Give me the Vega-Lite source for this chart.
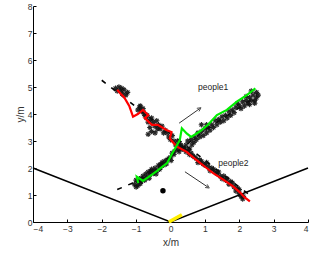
{
  "$schema": "https://vega.github.io/schema/vega-lite/v6.json",
  "width": 275,
  "height": 216,
  "autosize": "none",
  "padding": {"left": 33, "top": 6, "right": 19, "bottom": 36},
  "config": {
    "view": {"stroke": null},
    "font": "Liberation Sans",
    "axis": {
      "grid": false,
      "domainColor": "#000",
      "domainWidth": 1,
      "tickColor": "#000",
      "tickSize": -3,
      "labelColor": "#333",
      "labelFontSize": 8.5,
      "titleColor": "#333",
      "titleFontSize": 10,
      "titleFontWeight": "normal"
    }
  },
  "datasets": {
    "walls": [
      {"g": "w", "i": 0, "x": -4, "y": 2},
      {"g": "w", "i": 1, "x": 0, "y": 0},
      {"g": "w", "i": 2, "x": 4, "y": 2}
    ],
    "dashes": [
      {"g": "a", "i": 0, "x": -2.0, "y": 5.25},
      {"g": "a", "i": 1, "x": 2.3, "y": 1.0},
      {"g": "b", "i": 0, "x": -1.55, "y": 1.2},
      {"g": "b", "i": 1, "x": -1.0, "y": 1.5},
      {"g": "b", "i": 2, "x": 0.0, "y": 2.4},
      {"g": "b", "i": 3, "x": 1.0, "y": 3.4},
      {"g": "b", "i": 4, "x": 2.5, "y": 4.65}
    ],
    "scatter": [
      {"x": -1.05, "y": 1.4}, {"x": -1.0, "y": 1.55}, {"x": -0.95, "y": 1.35}, {"x": -0.9, "y": 1.6},
      {"x": -0.85, "y": 1.5}, {"x": -0.8, "y": 1.7}, {"x": -0.7, "y": 1.65}, {"x": -0.65, "y": 1.85},
      {"x": -0.6, "y": 1.75}, {"x": -0.55, "y": 1.95}, {"x": -0.5, "y": 1.8}, {"x": -0.45, "y": 2.0},
      {"x": -0.4, "y": 1.9}, {"x": -0.35, "y": 2.1}, {"x": -0.3, "y": 2.0}, {"x": -0.25, "y": 2.2},
      {"x": -0.2, "y": 2.1}, {"x": -0.1, "y": 2.3}, {"x": 0.0, "y": 2.4}, {"x": 0.05, "y": 2.55},
      {"x": 0.1, "y": 2.5}, {"x": 0.2, "y": 2.7}, {"x": 0.25, "y": 2.6}, {"x": 0.35, "y": 2.75},
      {"x": 0.45, "y": 2.85}, {"x": 0.5, "y": 3.0}, {"x": 0.6, "y": 3.05}, {"x": 0.7, "y": 3.15},
      {"x": 0.8, "y": 3.3}, {"x": 0.9, "y": 3.35}, {"x": 1.0, "y": 3.45}, {"x": 1.1, "y": 3.5},
      {"x": 1.2, "y": 3.6}, {"x": 1.3, "y": 3.75}, {"x": 1.4, "y": 3.8}, {"x": 1.5, "y": 3.9},
      {"x": 1.6, "y": 3.95}, {"x": 1.7, "y": 4.1}, {"x": 1.8, "y": 4.15}, {"x": 1.9, "y": 4.25},
      {"x": 2.0, "y": 4.3}, {"x": 2.1, "y": 4.45}, {"x": 2.2, "y": 4.5}, {"x": 2.3, "y": 4.6},
      {"x": 2.4, "y": 4.7}, {"x": 2.45, "y": 4.5}, {"x": 2.5, "y": 4.8}, {"x": 2.35, "y": 4.85},
      {"x": 2.2, "y": 4.65}, {"x": 1.95, "y": 4.4}, {"x": 0.9, "y": 3.6}, {"x": 1.05, "y": 3.6},
      {"x": 0.55, "y": 2.7},
      {"x": -1.0, "y": 1.3}, {"x": -0.95, "y": 1.5}, {"x": -0.88, "y": 1.42}, {"x": -0.82, "y": 1.6},
      {"x": -0.75, "y": 1.55}, {"x": -0.72, "y": 1.78}, {"x": -0.62, "y": 1.62}, {"x": -0.58, "y": 1.88},
      {"x": -0.48, "y": 1.9}, {"x": -0.42, "y": 1.78}, {"x": -0.32, "y": 1.95}, {"x": -0.28, "y": 2.12},
      {"x": -0.18, "y": 2.25}, {"x": -0.12, "y": 2.15}, {"x": -0.05, "y": 2.35}, {"x": 0.02, "y": 2.28},
      {"x": 0.12, "y": 2.62}, {"x": 0.3, "y": 2.85}, {"x": 0.4, "y": 2.7}, {"x": 0.62, "y": 2.85},
      {"x": 0.68, "y": 2.95}, {"x": 0.75, "y": 3.05}, {"x": 0.85, "y": 3.15}, {"x": 0.95, "y": 3.2},
      {"x": 1.05, "y": 3.3}, {"x": 1.15, "y": 3.4}, {"x": 1.25, "y": 3.5}, {"x": 1.35, "y": 3.6},
      {"x": 1.45, "y": 3.7}, {"x": 1.55, "y": 3.75}, {"x": 1.65, "y": 3.85}, {"x": 1.75, "y": 3.95},
      {"x": 1.85, "y": 4.05}, {"x": 2.05, "y": 4.2}, {"x": 2.15, "y": 4.3}, {"x": 2.25, "y": 4.4},
      {"x": 2.35, "y": 4.5}, {"x": 2.5, "y": 4.6}, {"x": 2.55, "y": 4.7}, {"x": 2.45, "y": 4.4},
      {"x": 2.3, "y": 4.35},
      {"x": -1.6, "y": 4.95}, {"x": -1.5, "y": 5.0}, {"x": -1.45, "y": 4.85}, {"x": -1.35, "y": 4.9},
      {"x": -1.4, "y": 4.75}, {"x": -1.3, "y": 4.7}, {"x": -0.9, "y": 4.25}, {"x": -0.85, "y": 4.1},
      {"x": -0.8, "y": 4.2}, {"x": -0.75, "y": 3.95}, {"x": -0.7, "y": 3.85}, {"x": -0.6, "y": 3.75},
      {"x": -0.5, "y": 3.7}, {"x": -0.45, "y": 3.55}, {"x": -0.35, "y": 3.6}, {"x": -0.3, "y": 3.45},
      {"x": -0.2, "y": 3.3}, {"x": -0.15, "y": 3.4}, {"x": -0.05, "y": 3.15}, {"x": 0.0, "y": 3.05},
      {"x": 0.1, "y": 3.0}, {"x": 0.15, "y": 2.85}, {"x": 0.25, "y": 2.9}, {"x": 0.35, "y": 2.7},
      {"x": 0.45, "y": 2.6}, {"x": 0.55, "y": 2.5}, {"x": 0.65, "y": 2.45}, {"x": 0.75, "y": 2.35},
      {"x": 0.8, "y": 2.2}, {"x": 0.9, "y": 2.25}, {"x": 1.0, "y": 2.1}, {"x": 1.1, "y": 2.05},
      {"x": 1.15, "y": 1.9}, {"x": 1.25, "y": 1.95}, {"x": 1.35, "y": 1.8}, {"x": 1.45, "y": 1.7},
      {"x": 1.5, "y": 1.6}, {"x": 1.6, "y": 1.55}, {"x": 1.7, "y": 1.4}, {"x": 1.75, "y": 1.5},
      {"x": 1.85, "y": 1.3}, {"x": 1.9, "y": 1.15}, {"x": 2.0, "y": 1.05}, {"x": 2.05, "y": 0.95},
      {"x": 2.1, "y": 0.85}, {"x": -0.55, "y": 3.35}, {"x": -0.45, "y": 3.3},
      {"x": -1.55, "y": 4.85}, {"x": -1.42, "y": 4.95}, {"x": -1.25, "y": 4.8}, {"x": -0.95, "y": 4.15},
      {"x": -0.88, "y": 4.3}, {"x": -0.78, "y": 4.05}, {"x": -0.68, "y": 3.95}, {"x": -0.65, "y": 3.7},
      {"x": -0.55, "y": 3.85}, {"x": -0.4, "y": 3.75}, {"x": -0.38, "y": 3.45}, {"x": -0.25, "y": 3.55},
      {"x": -0.1, "y": 3.3}, {"x": 0.05, "y": 3.2}, {"x": 0.2, "y": 3.0}, {"x": 0.3, "y": 2.8},
      {"x": 0.4, "y": 2.75}, {"x": 0.5, "y": 2.65}, {"x": 0.6, "y": 2.55}, {"x": 0.7, "y": 2.4},
      {"x": 0.85, "y": 2.3}, {"x": 0.95, "y": 2.15}, {"x": 1.05, "y": 2.2}, {"x": 1.2, "y": 2.0},
      {"x": 1.3, "y": 1.85}, {"x": 1.4, "y": 1.85}, {"x": 1.55, "y": 1.7}, {"x": 1.65, "y": 1.6},
      {"x": 1.8, "y": 1.45}, {"x": 1.95, "y": 1.25}, {"x": 2.0, "y": 1.2}, {"x": 2.12, "y": 0.95},
      {"x": -0.65, "y": 3.25}, {"x": -0.6, "y": 3.5}
    ],
    "red": [
      {"i": 0, "x": -1.55, "y": 4.9}, {"i": 1, "x": -1.45, "y": 4.75}, {"i": 2, "x": -1.35, "y": 4.62},
      {"i": 3, "x": -1.2, "y": 4.3}, {"i": 4, "x": -1.09, "y": 3.9}, {"i": 5, "x": -0.95, "y": 4.0},
      {"i": 6, "x": -0.8, "y": 4.15}, {"i": 7, "x": -0.65, "y": 3.96}, {"i": 8, "x": -0.75, "y": 3.85},
      {"i": 9, "x": -0.54, "y": 3.6}, {"i": 10, "x": -0.37, "y": 3.6}, {"i": 11, "x": -0.12, "y": 3.41},
      {"i": 12, "x": 0.03, "y": 3.33}, {"i": 13, "x": -0.02, "y": 3.1}, {"i": 14, "x": 0.05, "y": 2.98},
      {"i": 15, "x": 0.18, "y": 2.8}, {"i": 16, "x": 0.47, "y": 2.6}, {"i": 17, "x": 0.65, "y": 2.4},
      {"i": 18, "x": 0.85, "y": 2.2}, {"i": 19, "x": 1.05, "y": 2.0}, {"i": 20, "x": 1.23, "y": 1.82},
      {"i": 21, "x": 1.5, "y": 1.6}, {"i": 22, "x": 1.81, "y": 1.33}, {"i": 23, "x": 2.02, "y": 1.1},
      {"i": 24, "x": 2.15, "y": 0.92}, {"i": 25, "x": 2.31, "y": 0.76}
    ],
    "green": [
      {"i": 0, "x": -0.94, "y": 1.44}, {"i": 1, "x": -0.98, "y": 1.68}, {"i": 2, "x": -0.8, "y": 1.52},
      {"i": 3, "x": -0.6, "y": 1.7}, {"i": 4, "x": -0.4, "y": 1.88}, {"i": 5, "x": -0.1, "y": 2.18},
      {"i": 6, "x": 0.04, "y": 2.52}, {"i": 7, "x": 0.13, "y": 2.72}, {"i": 8, "x": 0.27, "y": 3.03},
      {"i": 9, "x": 0.33, "y": 3.47}, {"i": 10, "x": 0.47, "y": 3.28}, {"i": 11, "x": 0.6, "y": 3.15},
      {"i": 12, "x": 0.85, "y": 3.35}, {"i": 13, "x": 1.09, "y": 3.6}, {"i": 14, "x": 1.35, "y": 3.96},
      {"i": 15, "x": 1.64, "y": 4.15}, {"i": 16, "x": 1.93, "y": 4.46}, {"i": 17, "x": 2.22, "y": 4.7},
      {"i": 18, "x": 2.47, "y": 4.95}
    ],
    "yellow": [
      {"i": 0, "x": -0.05, "y": 0.0}, {"i": 1, "x": 0.33, "y": 0.27}
    ],
    "arrows": [
      {"g": "a1", "i": 0, "x": 0.25, "y": 3.66}, {"g": "a1", "i": 1, "x": 0.85, "y": 4.2},
      {"g": "a2", "i": 0, "x": 0.42, "y": 1.86}, {"g": "a2", "i": 1, "x": 1.09, "y": 1.29}
    ],
    "heads": [
      {"x": 0.85, "y": 4.2, "a": 55},
      {"x": 1.09, "y": 1.29, "a": 124}
    ],
    "dot": [{"x": -0.22, "y": 1.16}],
    "labels": [
      {"x": 1.24, "y": 5.0, "label": "people1"},
      {"x": 1.83, "y": 2.2, "label": "people2"}
    ]
  },
  "encoding": {
    "x": {"field": "x", "type": "quantitative", "title": "x/m",
      "scale": {"domain": [-4, 4], "nice": false},
      "axis": {"values": [-4, -3, -2, -1, 0, 1, 2, 3, 4], "labelPadding": 5, "titlePadding": 5}},
    "y": {"field": "y", "type": "quantitative", "title": "y/m",
      "scale": {"domain": [0, 8], "nice": false},
      "axis": {"values": [0, 1, 2, 3, 4, 5, 6, 7, 8], "labelPadding": 4, "titlePadding": 2}}
  },
  "layer": [
    {"data": {"name": "walls"}, "mark": {"type": "line", "color": "#000", "strokeWidth": 1.6},
      "encoding": {"detail": {"field": "g"}, "order": {"field": "i"}}},
    {"data": {"name": "dashes"}, "mark": {"type": "line", "color": "#000", "strokeWidth": 1.6, "strokeDash": [5, 7]},
      "encoding": {"detail": {"field": "g"}, "order": {"field": "i"}}},
    {"data": {"name": "scatter"}, "mark": {"type": "point", "shape": "M-1,0L1,0M0,-1L0,1M-0.7,-0.7L0.7,0.7M-0.7,0.7L0.7,-0.7", "filled": false, "stroke": "#111", "strokeWidth": 1.1, "size": 30, "opacity": 0.9}},
    {"data": {"name": "red"}, "mark": {"type": "line", "color": "#ff0000", "strokeWidth": 2.2},
      "encoding": {"order": {"field": "i"}}},
    {"data": {"name": "green"}, "mark": {"type": "line", "color": "#00ee00", "strokeWidth": 2.2},
      "encoding": {"order": {"field": "i"}}},
    {"data": {"name": "yellow"}, "mark": {"type": "line", "color": "#ffee00", "strokeWidth": 3.5},
      "encoding": {"order": {"field": "i"}}},
    {"data": {"name": "arrows"}, "mark": {"type": "line", "color": "#000", "strokeWidth": 0.8},
      "encoding": {"detail": {"field": "g"}, "order": {"field": "i"}}},
    {"data": {"name": "heads"}, "mark": {"type": "point", "shape": "M-0.6,0.7L0,-0.5L0.6,0.7", "filled": false, "stroke": "#000", "strokeWidth": 0.9, "size": 40},
      "encoding": {"angle": {"field": "a", "type": "quantitative", "scale": null}}},
    {"data": {"name": "dot"}, "mark": {"type": "circle", "color": "#000", "size": 30, "opacity": 1}},
    {"data": {"name": "labels"}, "mark": {"type": "text", "fontSize": 8.5, "color": "#222", "align": "center", "baseline": "middle"},
      "encoding": {"text": {"field": "label"}}}
  ]
}
